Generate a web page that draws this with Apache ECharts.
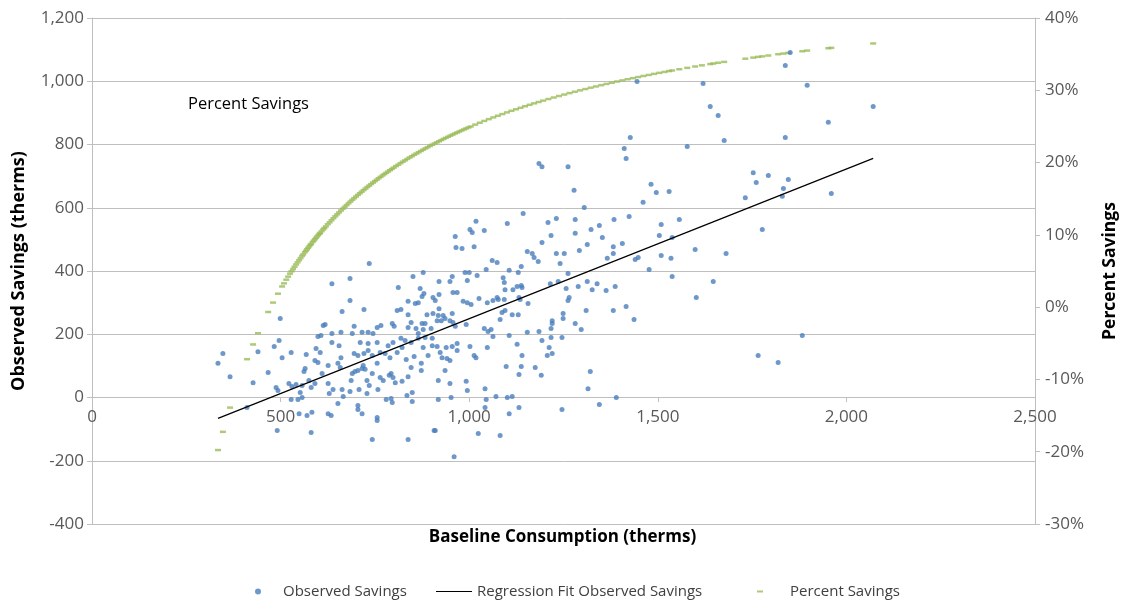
<!DOCTYPE html>
<html><head><meta charset="utf-8">
<script src="https://cdn.jsdelivr.net/npm/echarts@6/dist/echarts.min.js"></script>
<style>html,body{margin:0;padding:0;background:#fff}#c{width:1125px;height:601px}</style>
</head><body><div id="c"></div><script>
// Axis ranges (tick labels generated from these)
const xRange = [0, 2500, 500];
const savingsRange = [-400, 1200, 200];
const percentRange = [-30, 40, 10];

const seriesNames = ['Observed Savings', 'Regression Fit Observed Savings', 'Percent Savings'];
const xTitle = 'Baseline Consumption (therms)';
const yTitle = 'Observed Savings (therms)';
const y2Title = 'Percent Savings';
const noteText = 'Percent Savings';

// [baseline consumption (therms), observed savings (therms)]
const observedSavings = [
[499,250],[347,139],[334,108],[440,145],[483,161],[496,180],[504,126],[528,142],[568,136],[613,228],
[599,193],[607,196],[594,155],[605,142],[591,117],[599,111],[366,66],[467,79],[427,47],[565,92],
[562,82],[488,32],[493,22],[522,44],[530,35],[541,41],[557,38],[575,54],[581,32],[591,44],
[610,76],[528,-6],[546,-6],[557,0],[552,16],[411,-32],[549,-51],[570,-57],[583,-47],[491,-104],[581,-111],
[735,424],[878,395],[636,360],[684,376],[851,383],[812,348],[870,345],[880,329],[875,319],[904,316],
[684,307],[838,304],[857,297],[865,300],[663,272],[721,278],[809,275],[819,278],[838,262],[888,262],
[904,266],[618,231],[695,225],[756,221],[766,228],[796,234],[801,225],[838,221],[846,237],[859,218],
[875,234],[883,234],[899,218],[636,202],[660,206],[690,202],[716,206],[732,206],[745,202],[865,202],
[878,215],[636,174],[655,164],[711,174],[732,171],[756,174],[785,164],[798,174],[819,187],[830,180],
[846,174],[865,187],[883,190],[878,158],[902,164],[902,187],[660,126],[695,139],[705,133],[721,139],
[732,149],[743,133],[764,142],[777,139],[790,126],[809,142],[822,158],[833,120],[846,95],[854,130],
[873,108],[873,85],[891,133],[756,108],[719,101],[652,108],[658,95],[626,101],[690,76],[697,82],
[705,85],[716,92],[724,89],[743,76],[764,63],[772,54],[788,70],[793,76],[798,63],[804,47],
[822,51],[838,66],[687,54],[729,54],[735,38],[626,44],[639,25],[663,25],[629,13],[684,19],
[708,25],[729,13],[758,25],[780,-6],[793,-3],[796,-16],[835,6],[849,16],[849,-13],[652,-19],
[666,3],[705,-25],[705,-38],[716,-51],[626,-51],[634,-57],[756,-63],[756,-73],[743,-133],[838,-133],[907,-104],
[1143,582],[1018,557],[1101,550],[1002,531],[1008,522],[1040,528],[963,509],[965,474],[981,471],[1013,477],
[1193,490],[1154,462],[1167,455],[1172,443],[1061,433],[1074,427],[1183,430],[1045,405],[989,395],[1000,395],
[1106,402],[1130,395],[1138,414],[920,367],[949,367],[955,383],[995,370],[1021,386],[1090,379],[1093,364],
[1095,341],[1127,351],[1138,354],[1140,348],[957,332],[968,332],[920,326],[910,307],[1116,341],[984,304],
[995,300],[1005,294],[1026,313],[1048,300],[1063,307],[1074,316],[1077,310],[1093,310],[1132,316],[1135,310],
[1156,297],[920,281],[918,259],[931,259],[955,266],[936,250],[949,243],[957,237],[926,243],[915,243],
[1087,269],[1095,275],[1114,262],[1130,262],[1082,247],[963,225],[992,231],[1040,218],[1050,209],[1058,215],
[1063,193],[1106,196],[1154,206],[1185,209],[1193,180],[915,161],[939,158],[955,161],[968,171],[1002,161],
[1048,158],[923,142],[968,149],[928,126],[941,123],[949,117],[1013,133],[1018,126],[1127,168],[1140,133],
[1098,98],[1138,98],[1175,95],[936,85],[1132,73],[1191,70],[918,54],[949,44],[992,51],[995,22],
[1042,28],[918,-6],[952,0],[1045,-6],[1071,3],[1101,0],[1114,3],[1042,-32],[1106,-51],[1132,-32],
[910,-104],[1024,-114],[1082,-120],[960,-187],
[1305,601],[1461,617],[1209,553],[1231,566],[1281,563],[1384,563],[1424,572],[1509,547],[1217,512],[1281,519],
[1323,531],[1345,544],[1353,506],[1504,512],[1313,484],[1382,477],[1406,487],[1231,455],[1252,455],[1292,465],
[1382,455],[1366,440],[1440,436],[1448,443],[1509,449],[1241,424],[1477,405],[1262,392],[1215,360],[1236,367],
[1313,367],[1339,360],[1257,345],[1289,351],[1326,341],[1363,338],[1387,351],[1265,316],[1262,307],[1310,275],
[1382,275],[1416,288],[1249,266],[1249,250],[1220,243],[1220,234],[1437,247],[1281,234],[1217,218],[1297,215],
[1217,190],[1246,190],[1212,158],[1207,133],[1220,139],[1321,82],[1315,28],[1390,0],[1345,-22],[1246,-38],
[1851,1091],[1838,1050],[1620,993],[1896,987],[1639,920],[1660,892],[2071,920],[1952,870],[1676,813],[1838,822],
[1578,794],[1530,651],[1753,711],[1761,680],[1793,702],[1846,689],[1833,661],[1830,636],[1732,632],[1960,645],
[1557,563],[1538,506],[1777,531],[1599,468],[1535,440],[1681,455],[1538,383],[1647,367],[1602,316],[1883,196],
[1766,133],[1819,111],
[1427,822],[1411,787],[1416,756],[1185,740],[1193,730],[1262,730],[1278,655],[1482,674],[1496,648],[1445,999]
];

// Regression fit end points [baseline, fitted savings]
const regressionFit = [[334,-66],[2071,756]];

// [baseline consumption (therms), percent savings (%)]
const percentSavings = [
[334,-19.77],[347,-17.25],[366,-13.90],[411,-7.20],[427,-5.16],[440,-3.61],[467,-0.67],[480,0.63],[493,1.86],[504,2.86],
[509,3.29],[515,3.80],[520,4.22],[525,4.63],[529,4.96],[533,5.27],[537,5.59],[541,5.90],[545,6.20],[549,6.50],
[553,6.79],[557,7.08],[560,7.30],[564,7.58],[567,7.79],[570,8.00],[573,8.21],[576,8.41],[579,8.61],[581,8.75],
[585,9.01],[588,9.20],[591,9.40],[594,9.59],[597,9.78],[600,9.97],[603,10.15],[605,10.28],[609,10.52],[613,10.76],
[616,10.94],[620,11.17],[625,11.46],[630,11.74],[635,12.02],[640,12.30],[645,12.57],[650,12.84],[655,13.10],[660,13.36],
[665,13.62],[670,13.87],[675,14.11],[680,14.36],[685,14.60],[690,14.84],[695,15.07],[700,15.30],[705,15.53],[710,15.75],
[715,15.97],[720,16.19],[725,16.40],[730,16.62],[735,16.82],[740,17.03],[745,17.23],[750,17.43],[755,17.63],[760,17.83],
[765,18.02],[770,18.21],[775,18.40],[780,18.58],[785,18.76],[790,18.95],[795,19.12],[800,19.30],[806,19.51],[812,19.71],
[818,19.92],[824,20.12],[830,20.31],[836,20.51],[842,20.70],[848,20.88],[854,21.07],[860,21.25],[866,21.43],[872,21.61],
[878,21.79],[884,21.96],[890,22.13],[896,22.30],[902,22.47],[908,22.63],[914,22.79],[920,22.95],[926,23.11],[932,23.27],
[938,23.42],[944,23.57],[950,23.72],[956,23.87],[962,24.02],[968,24.16],[974,24.30],[980,24.44],[986,24.58],[992,24.72],
[998,24.86],[1004,24.99],[1016,25.25],[1028,25.51],[1040,25.76],[1052,26.01],[1064,26.25],[1076,26.48],[1088,26.71],[1100,26.94],
[1112,27.16],[1124,27.37],[1136,27.58],[1148,27.79],[1160,27.99],[1172,28.19],[1184,28.38],[1196,28.57],[1210,28.79],[1224,29.00],
[1238,29.21],[1252,29.41],[1266,29.61],[1280,29.80],[1294,29.99],[1308,30.17],[1322,30.36],[1336,30.53],[1350,30.71],[1364,30.88],
[1378,31.04],[1392,31.21],[1406,31.37],[1420,31.53],[1434,31.68],[1448,31.83],[1462,31.98],[1476,32.12],[1490,32.27],[1504,32.41],
[1518,32.54],[1530,32.66],[1538,32.74],[1557,32.91],[1578,33.10],[1599,33.29],[1617,33.45],[1639,33.63],[1647,33.70],[1660,33.81],
[1676,33.93],[1732,34.37],[1753,34.52],[1766,34.62],[1777,34.69],[1793,34.81],[1819,34.99],[1833,35.08],[1846,35.17],[1883,35.40],
[1896,35.49],[1952,35.82],[1960,35.87],[2071,36.48]
];

const FONT = '"Open Sans", sans-serif';
const GRID_GREY = '#bfbfbf';
const TEXT_GREY = '#595959';
const BLUE = '#4a7ebb';
const GREEN = '#9bbb59';
const fmt = v => Math.round(v).toLocaleString('en-US');
const legendText = {fontSize: 15, color: '#404040', fontFamily: FONT};

const chart = echarts.init(document.getElementById('c'), null, {renderer: 'canvas'});
chart.setOption({
  animation: false,
  backgroundColor: '#fff',
  textStyle: {fontFamily: FONT},
  grid: {left: 92, right: 90, top: 18, bottom: 77, containLabel: false, outerBoundsMode: 'none'},
  xAxis: {
    type: 'value', min: xRange[0], max: xRange[1], interval: xRange[2],
    offset: -127,
    axisLine: {show: true, onZero: false, lineStyle: {color: GRID_GREY, width: 1}},
    axisTick: {show: true, inside: false, length: 5, lineStyle: {color: GRID_GREY}},
    axisLabel: {color: TEXT_GREY, fontSize: 17, fontFamily: FONT, margin: 12, formatter: fmt},
    splitLine: {show: false}
  },
  yAxis: [{
    type: 'value', min: savingsRange[0], max: savingsRange[1], interval: savingsRange[2],
    name: yTitle, nameLocation: 'middle', nameGap: 64, nameRotate: 90,
    nameTextStyle: {fontSize: 18, fontWeight: 'bold', color: '#000', fontFamily: FONT},
    axisLine: {show: true, onZero: false, lineStyle: {color: GRID_GREY}},
    axisTick: {show: true, length: 5, lineStyle: {color: GRID_GREY}},
    axisLabel: {color: TEXT_GREY, fontSize: 17, fontFamily: FONT, margin: 8, formatter: fmt},
    splitLine: {show: true, lineStyle: {color: GRID_GREY, width: 1}}
  }, {
    type: 'value', position: 'right', min: percentRange[0], max: percentRange[1], interval: percentRange[2],
    name: y2Title, nameLocation: 'middle', nameGap: 66, nameRotate: 90,
    nameTextStyle: {fontSize: 17.5, fontWeight: 'bold', color: '#000', fontFamily: FONT},
    axisLine: {show: true, onZero: false, lineStyle: {color: GRID_GREY}},
    axisTick: {show: true, length: 5, lineStyle: {color: GRID_GREY}},
    axisLabel: {color: TEXT_GREY, fontSize: 17, fontFamily: FONT, margin: 10, formatter: v => Math.round(v) + '%'},
    splitLine: {show: false}
  }],
  legend: [{
    data: [{name: seriesNames[0], icon: 'circle'}],
    left: 250, top: 579, itemWidth: 6, itemHeight: 6,
    textStyle: Object.assign({padding: [0, 0, 0, 17]}, legendText), selectedMode: false
  }, {
    data: [{name: seriesNames[1], icon: 'rect'}],
    left: 431, top: 579, itemWidth: 36, itemHeight: 1, symbolKeepAspect: false,
    textStyle: legendText, selectedMode: false
  }, {
    data: [{name: seriesNames[2], icon: 'rect'}],
    left: 752, top: 579, itemWidth: 6, itemHeight: 2, symbolKeepAspect: false,
    textStyle: Object.assign({padding: [0, 0, 0, 22]}, legendText), selectedMode: false
  }],
  graphic: [{
    type: 'text', left: 'center', top: 529,
    style: {text: xTitle, font: 'bold 17px "Open Sans", sans-serif', fill: '#000'}
  }, {
    type: 'text', left: 188, top: 96,
    style: {text: noteText, font: '16.5px "Open Sans", sans-serif', fill: '#000'}
  }],
  series: [{
    name: seriesNames[0], type: 'scatter', xAxisIndex: 0, yAxisIndex: 0,
    data: observedSavings, symbol: 'circle', symbolSize: 5,
    itemStyle: {color: BLUE}, z: 3
  }, {
    name: seriesNames[1], type: 'line', xAxisIndex: 0, yAxisIndex: 0,
    data: regressionFit, symbol: 'none', showSymbol: false,
    lineStyle: {color: '#000', width: 1.2}, itemStyle: {color: '#000'}, z: 4
  }, {
    name: seriesNames[2], type: 'scatter', xAxisIndex: 0, yAxisIndex: 1,
    data: percentSavings, symbol: 'rect', symbolSize: [6, 2.5],
    itemStyle: {color: GREEN}, z: 2
  }]
});
</script></body></html>
